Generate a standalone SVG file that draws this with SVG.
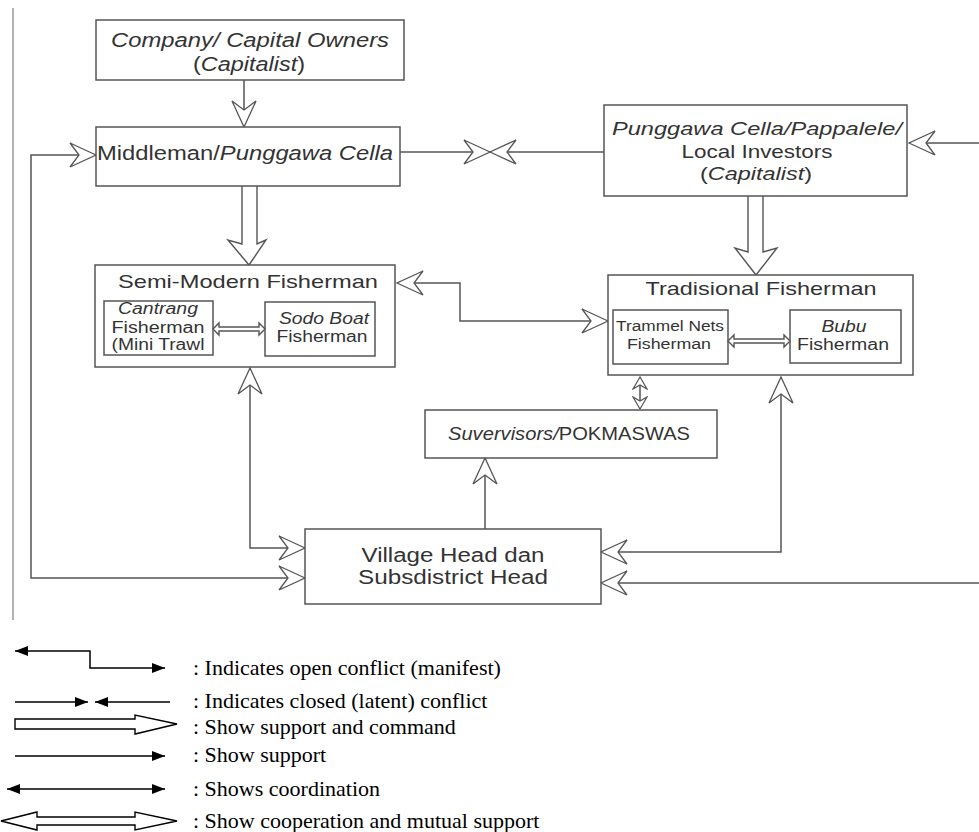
<svg xmlns="http://www.w3.org/2000/svg" width="979" height="832" viewBox="0 0 979 832">
<defs>
<style>
.box{fill:#fff;stroke:#555;stroke-width:1.5}
.t{font-family:"Liberation Sans",Arial,sans-serif;fill:#333;text-anchor:middle}
.i{font-style:italic}
.c{stroke:#555;stroke-width:1.5;fill:none}
.h{stroke:#555;stroke-width:1.4;fill:#fff}
.lg{stroke:#000;stroke-width:1.5;fill:none}
.lh{stroke:#000;stroke-width:1.4;fill:#fff}
.lt{font-family:"Liberation Serif","Times New Roman",serif;font-size:22px;fill:#000}
</style>
<marker id="oa" viewBox="0 0 28 28" refX="27" refY="14" markerWidth="28" markerHeight="28" markerUnits="userSpaceOnUse" orient="auto-start-reverse"><path d="M27,14 L1,2 L10,14 L1,26 Z" fill="#fff" stroke="#555" stroke-width="1.3"/></marker>
<marker id="os" viewBox="0 0 14 16" refX="13" refY="8" markerWidth="14" markerHeight="16" markerUnits="userSpaceOnUse" orient="auto-start-reverse"><path d="M13,8 L1,1 L5,8 L1,15 Z" fill="#fff" stroke="#555" stroke-width="1.2"/></marker>
<marker id="fa" viewBox="0 0 14 12" refX="13" refY="6" markerWidth="14" markerHeight="12" markerUnits="userSpaceOnUse" orient="auto-start-reverse"><path d="M13,6 L0,1 L0,11 Z" fill="#000"/></marker>
</defs>
<rect width="979" height="832" fill="#fff"/>
<line x1="13" y1="8" x2="13" y2="620" stroke="#999" stroke-width="1.5"/>

<g id="connectors">
<path class="c" d="M244,80 V127" marker-end="url(#oa)"/>
<path class="c" d="M305,578 H31 V155 H96" marker-start="url(#oa)" marker-end="url(#oa)"/>
<path class="c" d="M400,152 H490" marker-end="url(#oa)"/>
<path class="c" d="M604,152 H490" marker-end="url(#oa)"/>
<path class="c" d="M979,143 H909" marker-end="url(#oa)"/>
<path class="c" d="M397,283 H460 V321 H608" marker-start="url(#oa)" marker-end="url(#oa)"/>
<path class="c" d="M250,368 V548 H305" marker-start="url(#oa)" marker-end="url(#oa)"/>
<path class="c" d="M781,377 V552 H601" marker-start="url(#oa)" marker-end="url(#oa)"/>
<path class="c" d="M979,583 H601" marker-end="url(#oa)"/>
<path class="c" d="M485,529 V458" marker-end="url(#oa)"/>
<path class="c" d="M640,377 V409" marker-start="url(#os)" marker-end="url(#os)"/>
<path class="h" d="M242,186 V244 L228,240 L249,265 L266,240 L257,244 V186"/>
<path class="h" d="M748,196 V252 L735,248 L756,275 L777,248 L763,252 V196"/>
</g>

<g id="company">
<rect class="box" x="96" y="20" width="308" height="60"/>
<text class="t i" x="250" y="47" font-size="20" textLength="278" lengthAdjust="spacingAndGlyphs">Company/ Capital Owners</text>
<text class="t" x="249" y="71" font-size="20" textLength="112" lengthAdjust="spacingAndGlyphs">(<tspan class="i">Capitalist</tspan>)</text>
</g>

<g id="middleman">
<rect class="box" x="96" y="127" width="304" height="59"/>
<text class="t" x="245" y="160" font-size="20" textLength="296" lengthAdjust="spacingAndGlyphs">Middleman/<tspan class="i">Punggawa Cella</tspan></text>
</g>

<g id="punggawa">
<rect class="box" x="604" y="105" width="303" height="91"/>
<text class="t i" x="757" y="135" font-size="19" textLength="290" lengthAdjust="spacingAndGlyphs">Punggawa Cella/Pappalele/</text>
<text class="t" x="757" y="158" font-size="19" textLength="151" lengthAdjust="spacingAndGlyphs">Local Investors</text>
<text class="t" x="756" y="180" font-size="19" textLength="112" lengthAdjust="spacingAndGlyphs">(<tspan class="i">Capitalist</tspan>)</text>
</g>

<g id="semimodern">
<rect class="box" x="95" y="265" width="300" height="102"/>
<text class="t" x="248" y="288" font-size="19" textLength="260" lengthAdjust="spacingAndGlyphs">Semi-Modern Fisherman</text>
</g>

<g id="cantrang">
<rect class="box" x="104" y="301" width="109" height="54"/>
<text class="t i" x="158" y="314" font-size="16" textLength="80" lengthAdjust="spacingAndGlyphs">Cantrang</text>
<text class="t" x="158" y="333" font-size="16" textLength="93" lengthAdjust="spacingAndGlyphs">Fisherman</text>
<text class="t" x="158" y="350" font-size="16" textLength="93" lengthAdjust="spacingAndGlyphs">(Mini Trawl</text>
</g>

<g id="sodo">
<rect class="box" x="265" y="302" width="110" height="54"/>
<text class="t i" x="324" y="324" font-size="16" textLength="90" lengthAdjust="spacingAndGlyphs">Sodo Boat</text>
<text class="t" x="322" y="342" font-size="16" textLength="91" lengthAdjust="spacingAndGlyphs">Fisherman</text>
</g>
<path class="h" d="M213,329 L219,323 L219,327 L259,327 L259,323 L265,329 L259,335 L259,331 L219,331 L219,335 Z"/>

<g id="tradisional">
<rect class="box" x="608" y="275" width="305" height="100"/>
<text class="t" x="761" y="295" font-size="19" textLength="231" lengthAdjust="spacingAndGlyphs">Tradisional Fisherman</text>
</g>

<g id="trammel">
<rect class="box" x="613" y="310" width="115" height="54"/>
<text class="t" x="670" y="331" font-size="14" textLength="108" lengthAdjust="spacingAndGlyphs">Trammel Nets</text>
<text class="t" x="669" y="349" font-size="14" textLength="84" lengthAdjust="spacingAndGlyphs">Fisherman</text>
</g>

<g id="bubu">
<rect class="box" x="790" y="310" width="111" height="53"/>
<text class="t i" x="844" y="332" font-size="16" textLength="45" lengthAdjust="spacingAndGlyphs">Bubu</text>
<text class="t" x="843" y="350" font-size="16" textLength="92" lengthAdjust="spacingAndGlyphs">Fisherman</text>
</g>
<path class="h" d="M728,341 L734,335 L734,339 L784,339 L784,335 L790,341 L784,347 L784,343 L734,343 L734,347 Z"/>

<g id="pokmaswas">
<rect class="box" x="425" y="410" width="292" height="48"/>
<text class="t" x="569" y="440" font-size="18" textLength="242" lengthAdjust="spacingAndGlyphs"><tspan class="i">Suvervisors/</tspan>POKMASWAS</text>
</g>

<g id="village">
<rect class="box" x="305" y="529" width="296" height="75"/>
<text class="t" x="453" y="562" font-size="20" textLength="183" lengthAdjust="spacingAndGlyphs">Village Head dan</text>
<text class="t" x="453" y="584" font-size="20" textLength="190" lengthAdjust="spacingAndGlyphs">Subsdistrict Head</text>
</g>

<g id="legend">
<path class="lg" d="M15,651 H90 V668 H165" marker-start="url(#fa)" marker-end="url(#fa)"/>
<path class="lg" d="M15,702 H88" marker-end="url(#fa)"/>
<path class="lg" d="M170,702 H95" marker-end="url(#fa)"/>
<path class="lh" d="M15,719 H135 V715 L177,724 L135,734 V729 H15 Z"/>
<path class="lg" d="M15,756 H165" marker-end="url(#fa)"/>
<path class="lg" d="M7,789 H165" marker-start="url(#fa)" marker-end="url(#fa)"/>
<path class="lh" d="M1,821 L37,812 V817 H135 V812 L177,821 L135,830 V825 H37 V830 Z"/>
<text class="lt" x="193" y="675">:  Indicates open conflict (manifest)</text>
<text class="lt" x="193" y="708">:  Indicates closed (latent) conflict</text>
<text class="lt" x="193" y="734">:  Show support and command</text>
<text class="lt" x="193" y="762">:  Show support</text>
<text class="lt" x="193" y="796">:  Shows coordination</text>
<text class="lt" x="193" y="828">:  Show cooperation and mutual support</text>
</g>
</svg>
